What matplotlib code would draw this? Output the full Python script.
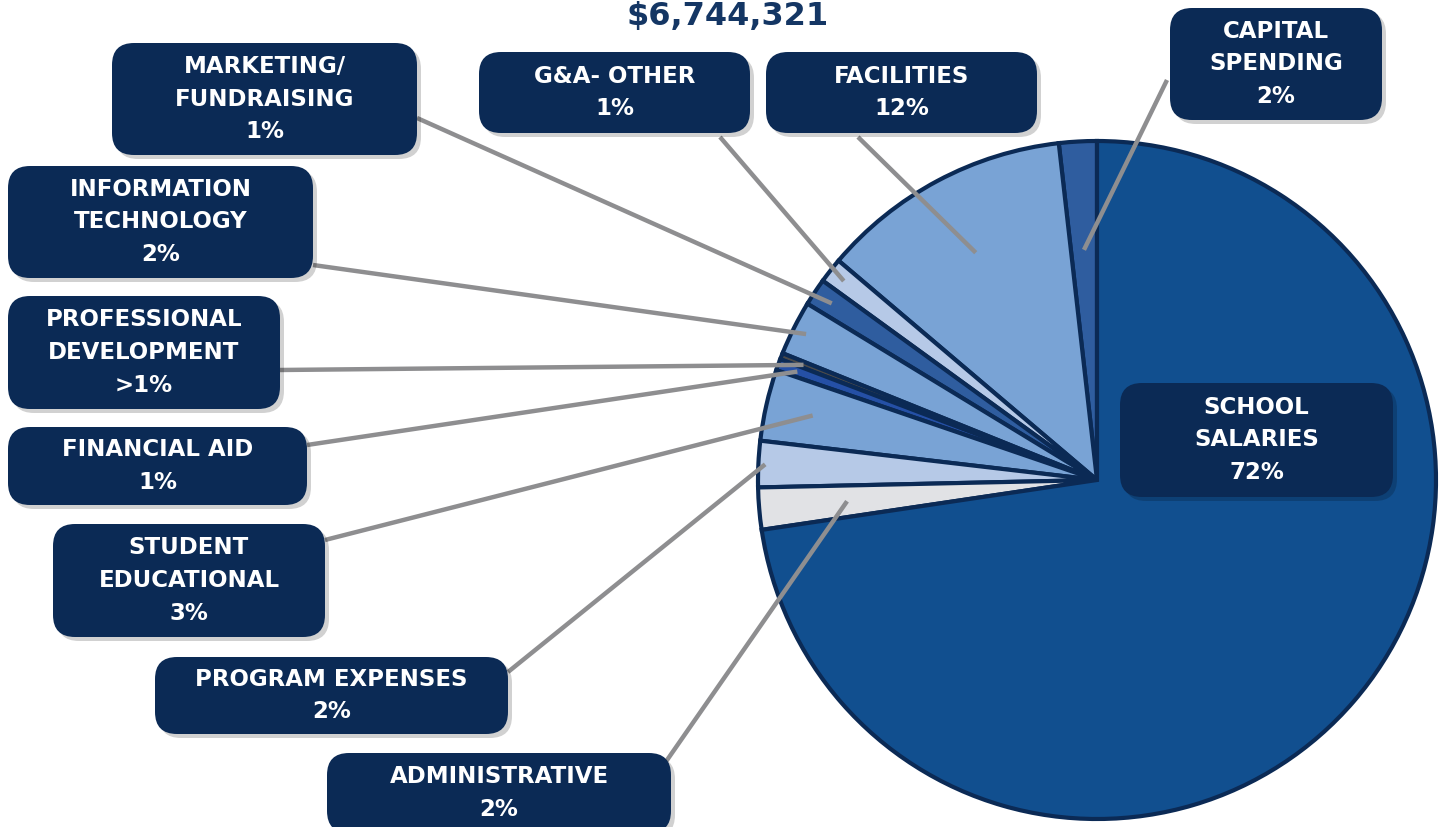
import matplotlib.pyplot as plt
from matplotlib.patches import FancyBboxPatch
import numpy as np

plt.rcParams['font.family'] = ['DejaVu Sans']

# data
categories = ['CAPITAL\nSPENDING', 'FACILITIES', 'G&A- OTHER', 'MARKETING/\nFUNDRAISING',
              'INFORMATION\nTECHNOLOGY', 'PROFESSIONAL\nDEVELOPMENT', 'FINANCIAL AID',
              'STUDENT\nEDUCATIONAL', 'PROGRAM EXPENSES', 'ADMINISTRATIVE', 'SCHOOL\nSALARIES']
shares = [1.8, 12.0, 1.2, 1.3, 2.6, 0.3, 0.55, 3.4, 2.2, 2.0, 72.65]
pct_labels = ['2%', '12%', '1%', '1%', '2%', '>1%', '1%', '3%', '2%', '2%', '72%']
total = '$6,744,321'

colors = ['#2f5d9f', '#79a3d5', '#b6c9e7', '#2f5d9f', '#79a3d5', '#4a4a4a',
          '#2550a6', '#79a3d5', '#b6c9e7', '#e1e2e5', '#114f8f']

NAVY = '#0b2a55'
H = 827

# layout: box (left, top, width, height) in pixels, line anchor on box, radius fraction of pointer
boxes = [(1170, 8, 212, 112), (766, 52, 271, 81), (479, 52, 271, 81), (112, 43, 305, 112),
         (8, 166, 305, 112), (8, 296, 272, 113), (8, 427, 299, 78),
         (53, 524, 272, 113), (155, 657, 353, 77), (327, 753, 344, 80), (1120, 383, 273, 114)]
anchors = [(1167, 80), (858, 137), (720, 137), (417, 118), (313, 265), (280, 370),
           (307, 445), (325, 540), (508, 672), (665, 763), None]
rfrac = [0.68, 0.76, 0.95, 0.94, 0.96, 0.93, 0.94, 0.86, 0.98, 0.74, None]

fig = plt.figure(figsize=(14.41, 8.27), dpi=100)
ax = fig.add_axes([0, 0, 1, 1])

cx, cy, r = 1097, H - 480, 339
wedges, _ = ax.pie(shares, colors=colors, startangle=90, counterclock=True,
                   center=(cx, cy), radius=r, frame=True,
                   wedgeprops=dict(edgecolor=NAVY, linewidth=3.0))
ax.set_xlim(0, 1441)
ax.set_ylim(0, H)
ax.set_aspect('equal')
ax.axis('off')

# leader lines
for w, a, f in zip(wedges, anchors, rfrac):
    if a is None:
        continue
    mid = np.deg2rad((w.theta1 + w.theta2) / 2)
    px, py = cx + f * r * np.cos(mid), cy + f * r * np.sin(mid)
    ax.plot([a[0], px], [H - a[1], py], color='#8e8e90', lw=3.2,
            solid_capstyle='butt', zorder=3)

# label boxes
for (x, y, w, h), cat, pct in zip(boxes, categories, pct_labels):
    shadow = FancyBboxPatch((x + 4, H - y - h - 4), w, h,
                            boxstyle='round,pad=0,rounding_size=22',
                            fc='#000000', ec='none', alpha=0.18, zorder=4)
    ax.add_patch(shadow)
    box = FancyBboxPatch((x, H - y - h), w, h, boxstyle='round,pad=0,rounding_size=22',
                         fc=NAVY, ec='none', zorder=5)
    ax.add_patch(box)
    ax.text(x + w / 2, H - y - h / 2, cat + '\n' + pct, ha='center', va='center',
            color='white', fontsize=16.5, fontweight='bold', linespacing=1.55, zorder=6)

ax.text(728, H - 17, total, ha='center', va='center', color='#143664',
        fontsize=23, fontweight='bold', zorder=6)

fig.savefig('out.png', dpi=100)
